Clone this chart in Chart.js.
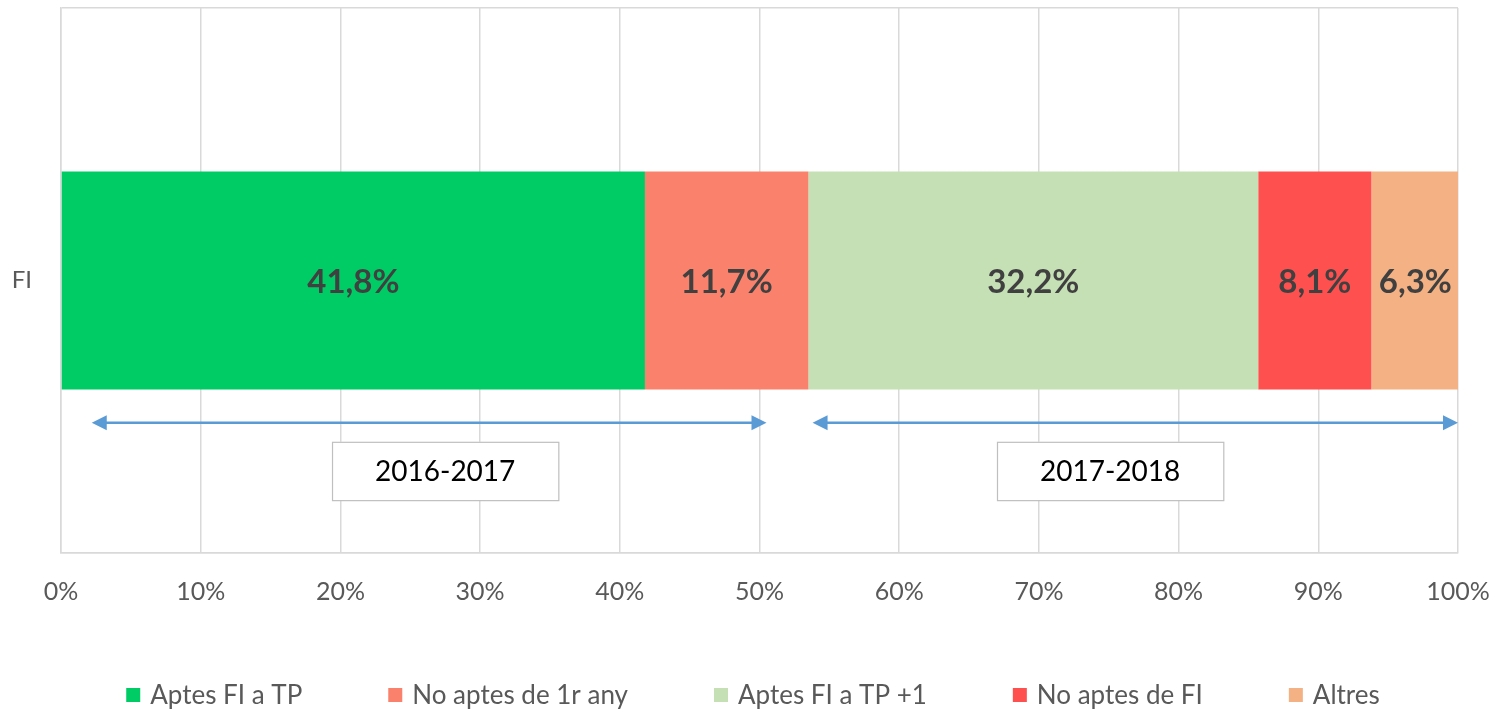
<!DOCTYPE html>
<html><head><meta charset="utf-8">
<script src="https://cdn.jsdelivr.net/npm/chart.js@4/dist/chart.umd.min.js"></script>
<style>html,body{margin:0;padding:0;background:#fff}#wrap{width:1503px;height:711px}</style>
</head><body><div id="wrap"><canvas id="c" width="1503" height="711"></canvas></div>
<script>
const categories = ["FI"];
const seriesNames = ["Aptes FI a TP", "No aptes de 1r any", "Aptes FI a TP +1", "No aptes de FI", "Altres"];
const seriesValues = [[41.8], [11.7], [32.2], [8.1], [6.3]];
const seriesColors = ["#00cc66", "#fa826c", "#c5e0b4", "#ff5050", "#f4b183"];
const xTicks = [0,10,20,30,40,50,60,70,80,90,100];
const periods = [
  {label: "2016-2017", from: 2.2, to: 50.5, boxFrom: 19.4, boxTo: 35.6},
  {label: "2017-2018", from: 53.8, to: 100, boxFrom: 67.0, boxTo: 83.2}
];
const FONT = "Lato, 'Open Sans', sans-serif";

const labelPlugin = {
  id: 'labels',
  afterDatasetsDraw(chart) {
    const ctx = chart.ctx;
    ctx.save();
    ctx.font = "bold 33px " + FONT;
    ctx.fillStyle = "#404040";
    ctx.textAlign = "center";
    ctx.textBaseline = "middle";
    chart.data.datasets.forEach((ds, i) => {
      chart.getDatasetMeta(i).data.forEach((el, j) => {
        const v = ds.data[j];
        const p = el.getCenterPoint();
        ctx.fillText(v.toFixed(1).replace('.', ',') + '%', p.x, p.y + 2);
      });
    });
    ctx.restore();
  },
  afterDraw(chart) {
    const ctx = chart.ctx, xs = chart.scales.x, a = chart.chartArea;
    const h = a.bottom - a.top;
    const yArrow = a.top + h * 0.761;
    const boxTop = a.top + h * 0.796, boxBot = a.top + h * 0.903;
    ctx.save();
    periods.forEach(p => {
      const x1 = xs.getPixelForValue(p.from), x2 = xs.getPixelForValue(p.to);
      ctx.strokeStyle = "#5b9bd5"; ctx.fillStyle = "#5b9bd5"; ctx.lineWidth = 2.5;
      ctx.beginPath(); ctx.moveTo(x1 + 8, yArrow); ctx.lineTo(x2 - 8, yArrow); ctx.stroke();
      const head = (x, dir) => {
        ctx.beginPath(); ctx.moveTo(x, yArrow); ctx.lineTo(x - dir * 15, yArrow - 7.5); ctx.lineTo(x - dir * 15, yArrow + 7.5); ctx.closePath(); ctx.fill();
      };
      head(x1, -1); head(x2, 1);
      const bx1 = xs.getPixelForValue(p.boxFrom), bx2 = xs.getPixelForValue(p.boxTo);
      ctx.fillStyle = "#fff"; ctx.fillRect(bx1, boxTop, bx2 - bx1, boxBot - boxTop);
      ctx.strokeStyle = "#bfbfbf"; ctx.lineWidth = 1.2;
      ctx.strokeRect(bx1 + 0.5, boxTop + 0.5, bx2 - bx1, boxBot - boxTop);
      ctx.fillStyle = "#000"; ctx.font = "28px " + FONT; ctx.textAlign = "center"; ctx.textBaseline = "middle";
      ctx.fillText(p.label, (bx1 + bx2) / 2, (boxTop + boxBot) / 2 + 1);
    });
    // legend
    ctx.font = "26px " + FONT;
    ctx.textBaseline = "middle"; ctx.textAlign = "left";
    const box = 14, gapText = 10, gapItem = 86;
    const ws = seriesNames.map(n => box + gapText + ctx.measureText(n).width);
    const total = ws.reduce((s, w) => s + w, 0) + gapItem * (ws.length - 1);
    let x = 753 - total / 2;
    const ly = 695;
    seriesNames.forEach((n, i) => {
      ctx.fillStyle = seriesColors[i];
      ctx.fillRect(x, ly - box / 2, box, box);
      ctx.fillStyle = "#595959";
      ctx.fillText(n, x + box + gapText, ly + 1);
      x += ws[i] + gapItem;
    });
    ctx.restore();
  }
};

new Chart(document.getElementById('c'), {
  type: 'bar',
  data: {
    labels: categories,
    datasets: seriesNames.map((n, i) => ({
      label: n, data: seriesValues[i], backgroundColor: seriesColors[i],
      borderWidth: 0, barPercentage: 0.4, categoryPercentage: 1
    }))
  },
  options: {
    indexAxis: 'y',
    responsive: false, animation: false,
    devicePixelRatio: 1,
    layout: {padding: {top: 8, right: 45, left: 0, bottom: 0}},
    scales: {
      x: {
        stacked: true, min: 0, max: 100,
        afterBuildTicks(s) { s.ticks = xTicks.map(v => ({value: v})); },
        ticks: {callback: v => v + '%', color: "#595959", font: {size: 25, family: FONT}, padding: 24, maxRotation: 0},
        grid: {color: "#d9d9d9", lineWidth: 1.5, drawTicks: false},
        border: {color: "#d9d9d9", width: 1.5},
        afterFit(s) { s.height = 158; s.paddingLeft = 0; s.paddingRight = 0; }
      },
      y: {
        stacked: true,
        ticks: {color: "#595959", font: {size: 24, family: FONT}, padding: 29},
        grid: {color: "#d9d9d9", lineWidth: 1.5, drawTicks: false, offset: true},
        border: {color: "#d9d9d9", width: 1.5},
        afterFit(s) { s.width = 61; s.paddingTop = 0; s.paddingBottom = 0; }
      }
    },
    plugins: {
      legend: {display: false},
      tooltip: {enabled: false}
    }
  },
  plugins: [labelPlugin]
});
</script></body></html>
